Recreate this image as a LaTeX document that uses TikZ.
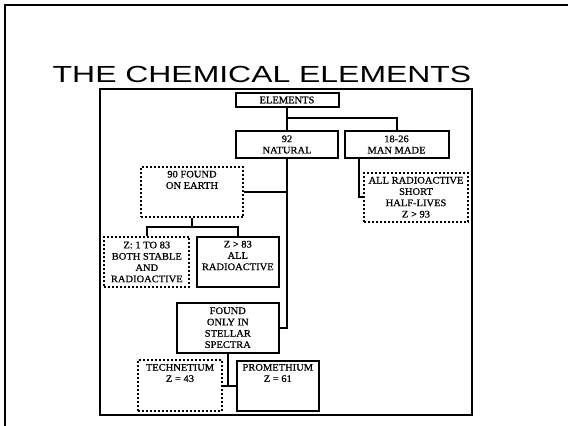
\documentclass[tikz,border=0pt]{standalone}
\usepackage{fontspec}
\newfontfamily\titlefont[FakeStretch=1.37]{Liberation Sans}
\newfontfamily\boxfont[FakeStretch=1.05,FakeBold=0.8]{Liberation Serif}
\begin{document}
\begin{tikzpicture}[x=1pt,y=-1pt,
    box/.style={draw,line width=2pt,inner sep=0pt,align=center,
      font=\boxfont\fontsize{10}{11.3}\selectfont},
    dotbox/.style={box,dash pattern=on 2pt off 2pt},
    link/.style={line width=2pt}]
      \def\toptext#1{\parbox[c][43pt][t]{78pt}{\centering #1}}
      \useasboundingbox (0,0) rectangle (568,426);
      \draw[line width=2.2pt] (568,5) -- (5,5) -- (5,426);
      \node[font=\titlefont\fontsize{23.3}{28}\selectfont,anchor=base] (title) at (262,82)
        {THE CHEMICAL ELEMENTS};
      \draw[line width=2pt] (100,89) rectangle (472,415);
      \node[box,minimum width=103pt,minimum height=14pt] (el) at (287,100) {ELEMENTS};
      \node[box,minimum width=102pt,minimum height=27.6pt] (nat) at (287,144.5) {92\\NATURAL};
      \node[box,minimum width=104pt,minimum height=27.6pt] (mm) at (396.5,144.5) {18-26\\MAN MADE};
      \node[dotbox,minimum width=102.6pt,minimum height=50pt] (earth) at (192,192.3)
        {\toptext{90 FOUND\\ON EARTH}};
      \node[dotbox,minimum width=104pt,minimum height=49pt] (short) at (416,197.2)
        {ALL RADIOACTIVE\\SHORT\\HALF-LIVES\\Z > 93};
      \node[dotbox,minimum width=85pt,minimum height=50.6pt] (stable) at (146.8,262)
        {Z: 1 TO 83\\BOTH STABLE\\AND\\RADIOACTIVE};
      \node[box,minimum width=82.3pt,minimum height=50pt] (radio) at (237.8,262.3)
        {\toptext{Z > 83\\ALL\\RADIOACTIVE}};
      \node[box,minimum width=102.3pt,minimum height=50pt] (stellar) at (227.8,327.7)
        {FOUND\\ONLY IN\\STELLAR\\SPECTRA};
      \node[dotbox,minimum width=83.4pt,minimum height=51.7pt] (tech) at (180,385.5)
        {\toptext{TECHNETIUM\\Z = 43}};
      \node[box,minimum width=82.3pt,minimum height=50pt] (prom) at (277.8,385.5)
        {\toptext{PROMETHIUM\\Z = 61}};
      \draw[link] (el.south) -- (nat.north);
      \draw[link] (el.south) -- ++(0,10) -| (mm.north);
      \draw[link] (nat.south) |- (stellar.east);
      \draw[link] (earth.east) -- (earth.east -| nat.south);
      \draw[link] (earth.south) -- ++(0,9) coordinate (fork);
      \draw[link] (stable.north) |- (fork) -| (radio.north);
      \draw[link] ([xshift=15pt]mm.south west) |- (short.west);
      \draw[link] (stellar.south) -- (stellar.south |- tech.east);
      \draw[link] (tech.east) -- (prom.west);
    \end{tikzpicture}
\end{document}
